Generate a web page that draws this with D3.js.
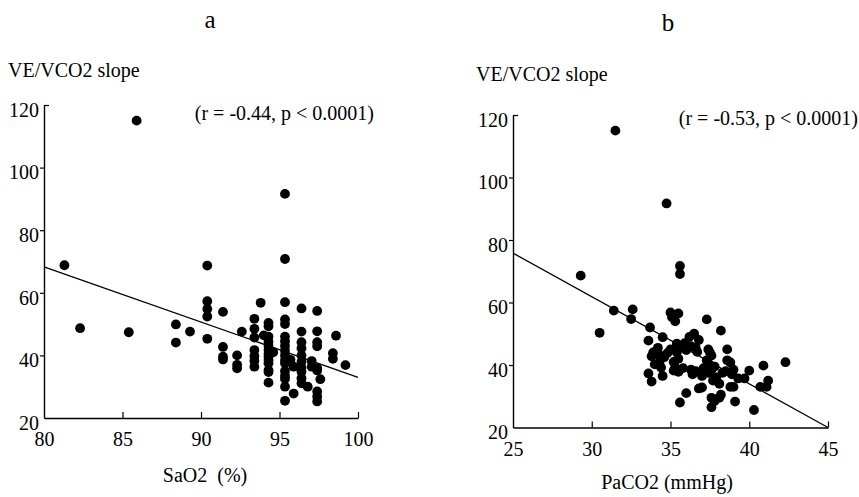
<!DOCTYPE html>
<html>
<head>
<meta charset="utf-8">
<script src="https://cdn.jsdelivr.net/npm/d3@7.9.0/dist/d3.min.js"></script>
<style>
  body { margin: 0; background: #fff; }
  svg { display: block; }
</style>
</head>
<body>
<div id="chart"></div>
<script>
// ---- data ----
const yTicks = [20, 40, 60, 80, 100, 120];
const xTicksA = [80, 85, 90, 95, 100];
const xTicksB = [25, 30, 35, 40, 45];

// panel a: SaO2 (%) vs VE/VCO2 slope
const pointsA = [
  [81.3, 68.8], [82.3, 48.7], [85.4, 47.4], [85.9, 115], [88.4, 49.9], [88.4, 44.1], [89.3, 47.6],
  [90.4, 68.7], [90.4, 57.3], [90.4, 54.8], [90.4, 52.4], [90.4, 45.3],
  [91.4, 53.9], [91.4, 42.7], [91.4, 39.6], [91.4, 38.7],
  [92.3, 40], [92.3, 37], [92.3, 35.9], [92.6, 47.6],
  [93.4, 51.7], [93.4, 48.5], [93.4, 45.7], [93.4, 41.7], [93.4, 39.8], [93.4, 38.3], [93.4, 36.4],
  [93.8, 56.8], [94.0, 46.4],
  [94.3, 50.4], [94.3, 49.3], [94.3, 46], [94.3, 44.4], [94.3, 43], [94.3, 41.7], [94.3, 40.5],
  [94.3, 39.6], [94.3, 38.5], [94.3, 37.5], [94.3, 35.3], [94.3, 34.7], [94.3, 31.3],
  [94.6, 41],
  [95.35, 91.6], [95.35, 70.8], [95.35, 57], [95.35, 51.5], [95.35, 50], [95.35, 46], [95.35, 44.5],
  [95.35, 43], [95.35, 41.5], [95.35, 40], [95.35, 38.5], [95.35, 37.5], [95.35, 35], [95.35, 33.5],
  [95.35, 32.5], [95.35, 30], [95.35, 25.5],
  [95.7, 38.6], [95.9, 27.8], [95.9, 36.4],
  [96.4, 55], [96.4, 47.6], [96.4, 44.2], [96.4, 42.3], [96.4, 40], [96.4, 38], [96.4, 36.1],
  [96.4, 34.8], [96.4, 32.7], [96.4, 31.1],
  [96.8, 30], [97.05, 38.2], [97.05, 36.4],
  [97.4, 54.2], [97.4, 47.7], [97.4, 44.2], [97.4, 42.9], [97.4, 35.9], [97.4, 35.2], [97.4, 28.5],
  [97.4, 26.9], [97.4, 25.3],
  [97.6, 32.4], [98.4, 40.7], [98.4, 38.9], [98.6, 46.3], [99.2, 36.9]
];
const fitA = [[80, 68.3], [100, 33]];

// panel b: PaCO2 (mmHg) vs VE/VCO2 slope
const pointsB = [
  [29.3, 68.6], [30.5, 50.3], [31.4, 57.4], [31.5, 115], [32.6, 57.8], [32.5, 54.7],
  [33.7, 52], [33.6, 47.8], [33.6, 37.3], [33.8, 34.7], [33.9, 44], [34.1, 44.5], [34.3, 43.2],
  [34.6, 42.5], [34.0, 40.2], [34.3, 40.8], [33.8, 42.8], [34.5, 48.9], [34.5, 36.5], [34.75, 91.7],
  [35.0, 56.8], [35.1, 55.3], [35.3, 54], [35.5, 56.5], [35.4, 46.8], [35.6, 45.5], [35.4, 44],
  [35.2, 41], [35.3, 39.3], [35.5, 37.8], [35.8, 39], [35.6, 71.7], [35.6, 69.1], [35.6, 28],
  [36.0, 31], [35.9, 47], [36.2, 49], [36.5, 50], [36.3, 46], [36.6, 45.5], [36.7, 44.2],
  [36.3, 38.5], [36.4, 37], [36.6, 38], [36.8, 32.5], [37.0, 32.8], [37.3, 54.6], [37.4, 45],
  [37.5, 44], [37.6, 43], [37.3, 41.5], [37.5, 40], [37.6, 38.5], [37.4, 37.5], [37.8, 39.5],
  [37.9, 36], [37.7, 35], [37.6, 29.5], [37.6, 26.5], [37.8, 28.5], [38.2, 51], [38.1, 34],
  [38.2, 30.5], [38.1, 29.5], [38.6, 45], [38.6, 41.5], [38.8, 40.8], [38.5, 38], [38.9, 37],
  [39.0, 38.5], [38.8, 33], [39.0, 33], [39.1, 28.3], [39.3, 35.7], [39.7, 35.7], [40.0, 38.2],
  [40.3, 25.6], [40.7, 33], [40.9, 39.8], [41.2, 35], [41.1, 33], [42.3, 40.9],
  [34.2, 45.5], [34.8, 43.8], [35.0, 45], [35.5, 42], [36.0, 44.8], [36.8, 48], [37.1, 39],
  [38.3, 37.5], [37.0, 36.5], [34.4, 39.2], [35.2, 38.2]
];
const fitB = [[25, 75.8], [45, 20]];

const FONT = '"Liberation Serif", "Times New Roman", serif';
const width = 859, height = 497;

const svg = d3.select('#chart').append('svg')
  .attr('width', width)
  .attr('height', height)
  .style('font-family', FONT);

function panel(opt) {
  const x = d3.scaleLinear().domain(opt.xDomain).range(opt.xRange);
  const y = d3.scaleLinear().domain([20, 120]).range(opt.yRange);
  const g = svg.append('g');

  // y axis: short outward ticks, top one turned inward
  const ya = g.append('g')
    .attr('transform', `translate(${opt.xRange[0]},0)`)
    .call(d3.axisLeft(y).tickValues(yTicks).tickSizeInner(4).tickSizeOuter(0).tickPadding(1));
  ya.selectAll('.tick line').filter(d => d === 120).attr('x2', 5);
  ya.selectAll('.tick line').filter(d => d === 20).remove();
  ya.selectAll('text').attr('dy', '0.56em');

  // x axis: ticks pointing up into the plot
  const xa = g.append('g')
    .attr('transform', `translate(0,${opt.yRange[0]})`)
    .call(d3.axisBottom(x).tickValues(opt.xTicks).tickSizeInner(-6).tickSizeOuter(0).tickPadding(14));
  xa.selectAll('.tick line').filter(d => d === opt.xTicks[0]).remove();

  g.selectAll('.domain').attr('stroke', '#000').attr('stroke-width', 1.4);
  g.selectAll('.tick line').attr('stroke', '#000').attr('stroke-width', 1.2);
  g.selectAll('.tick text')
    .attr('fill', '#000')
    .attr('font-size', 20)
    .attr('font-family', FONT);

  // regression line
  g.append('line')
    .attr('x1', x(opt.fit[0][0])).attr('y1', y(opt.fit[0][1]))
    .attr('x2', x(opt.fit[1][0])).attr('y2', y(opt.fit[1][1]))
    .attr('stroke', '#000')
    .attr('stroke-width', 1.3);

  // points
  g.append('g')
    .selectAll('circle')
    .data(opt.points)
    .join('circle')
    .attr('cx', d => x(d[0]))
    .attr('cy', d => y(d[1]))
    .attr('r', 4.9)
    .attr('fill', '#000');

  // labels
  g.append('text')
    .attr('x', opt.letterX).attr('y', opt.letterY)
    .attr('text-anchor', 'middle')
    .attr('font-size', 25)
    .text(opt.letter);

  g.append('text')
    .attr('x', opt.yLabelX).attr('y', opt.yLabelY)
    .attr('font-size', 20)
    .text('VE/VCO2 slope');

  g.append('text')
    .attr('x', opt.rX).attr('y', opt.rY)
    .attr('text-anchor', 'end')
    .attr('font-size', 20)
    .text(opt.rText);

  g.append('text')
    .attr('x', opt.xLabelX).attr('y', opt.xLabelY)
    .attr('text-anchor', 'middle')
    .attr('font-size', 20)
    .style('white-space', 'pre')
    .text(opt.xLabel);
}

panel({
  xDomain: [80, 100], xRange: [44, 358], yRange: [418, 105],
  xTicks: xTicksA, points: pointsA, fit: fitA,
  letter: 'a', letterX: 210, letterY: 28,
  yLabelX: 8, yLabelY: 77,
  rText: '(r = -0.44, p < 0.0001)', rX: 374, rY: 120,
  xLabel: 'SaO2  (%)', xLabelX: 205, xLabelY: 482
});

panel({
  xDomain: [25, 45], xRange: [513, 828], yRange: [427.5, 115],
  xTicks: xTicksB, points: pointsB, fit: fitB,
  letter: 'b', letterX: 668, letterY: 31,
  yLabelX: 476, yLabelY: 81,
  rText: '(r = -0.53, p < 0.0001)', rX: 858, rY: 125,
  xLabel: 'PaCO2 (mmHg)', xLabelX: 667, xLabelY: 489
});
</script>
</body>
</html>
